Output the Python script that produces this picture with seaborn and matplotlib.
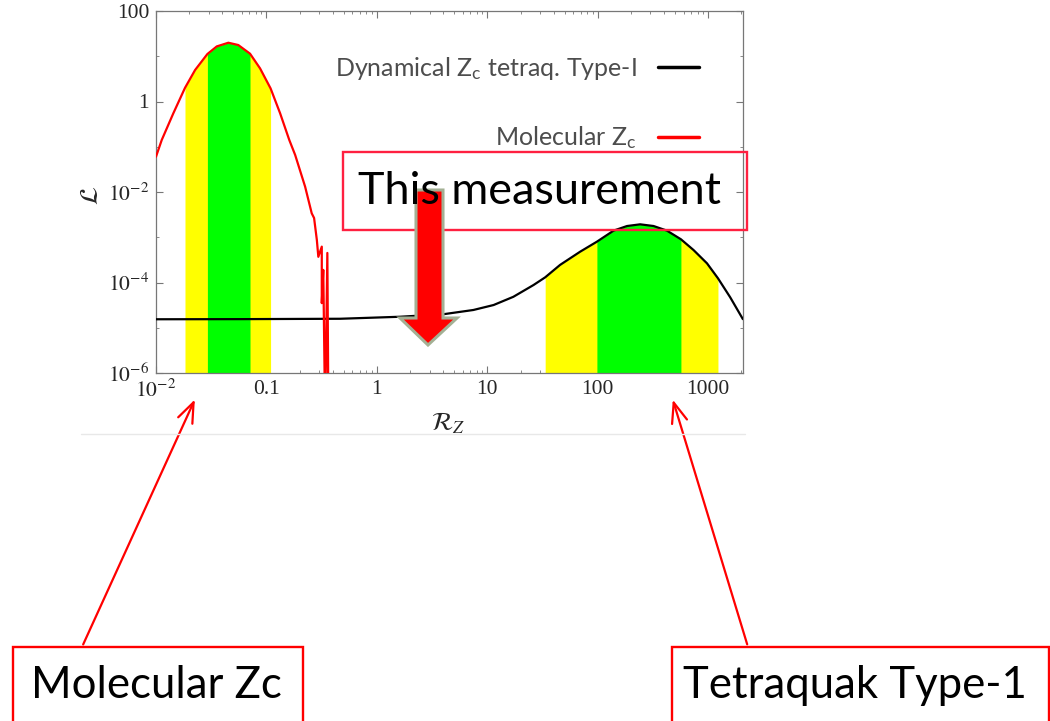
import numpy as np
import matplotlib
matplotlib.use("Agg")
import matplotlib.pyplot as plt
import seaborn as sns
from matplotlib.patches import Rectangle, Polygon, FancyArrowPatch
from matplotlib.lines import Line2D
from matplotlib.ticker import FixedLocator, NullFormatter, LogLocator

# ---- likelihood curves vs R_Z ----
molecular_x = np.array([0.0100, 0.01127, 0.01435, 0.0183, 0.0226, 0.0292, 0.0355, 0.0452,
                        0.0556, 0.0710, 0.0875, 0.109, 0.133, 0.161, 0.182, 0.224,
                        0.257, 0.270, 0.286, 0.295, 0.317, 0.317, 0.327, 0.340, 0.356, 0.364])
molecular_y = np.array([0.0603, 0.141, 0.548, 2.00, 4.97, 11.2, 16.5, 19.9,
                        17.7, 11.4, 5.4, 1.95, 0.548, 0.141, 0.0658, 0.0131,
                        3.38e-3, 2.66e-3, 8.7e-4, 3.7e-4, 6.2e-4, 3.5e-5, 1.9e-4, 1e-7, 4.5e-4, 1e-7])

tetraquark_x = np.array([0.0100, 0.0577, 0.465, 1.62, 4.00, 7.48, 11.4, 17.2, 26.2, 33.4,
                         45.6, 69.3, 98.2, 139, 184, 242, 320, 423, 566, 736, 975, 1225,
                         1581, 2060])
tetraquark_y = np.array([1.54e-5, 1.55e-5, 1.58e-5, 1.75e-5, 1.99e-5, 2.47e-5, 3.18e-5, 4.83e-5,
                         8.8e-5, 1.30e-4, 2.45e-4, 4.80e-4, 7.98e-4, 1.40e-3, 1.77e-3, 1.93e-3,
                         1.77e-3, 1.40e-3, 9.02e-4, 5.22e-4, 2.65e-4, 1.24e-4, 4.71e-5, 1.55e-5])

# 1 sigma / 2 sigma ranges
molecular_band_2s = (0.0183, 0.109)
molecular_band_1s = (0.0292, 0.0710)
tetraquark_band_2s = (33.4, 1225)
tetraquark_band_1s = (98.2, 566)

x_ticks = [0.01, 0.1, 1, 10, 100, 1000]
x_tick_labels = [r"$10^{-2}$", "0.1", "1", "10", "100", "1000"]
y_ticks = [1e-6, 1e-4, 1e-2, 1, 100]
y_tick_labels = [r"$10^{-6}$", r"$10^{-4}$", r"$10^{-2}$", "1", "100"]
y_minor_ticks = [1e-5, 1e-3, 1e-1, 10]

legend_labels = [r"Dynamical Z$\mathregular{_c}$ tetraq. Type-I", r"Molecular Z$\mathregular{_c}$"]

sns.set_style("white")
plt.rcParams["font.family"] = ["DejaVu Sans"]
plt.rcParams["mathtext.fontset"] = "stix"

W, H = 1050, 721
fig = plt.figure(figsize=(W / 100, H / 100), dpi=100)


def fx(px):
    return px / W


def fy(py):
    return 1 - py / H


ax = fig.add_axes([fx(156), fy(373), fx(743) - fx(156), fy(11) - fy(373)])
ax.set_xscale("log")
ax.set_yscale("log")


def band(x, y, rng, color):
    lo, hi = rng
    m = (x >= lo * 0.999) & (x <= hi * 1.001)
    ax.fill_between(x[m], 1e-8, y[m], color=color, lw=0, zorder=1)


band(molecular_x[:20], molecular_y[:20], molecular_band_2s, "#ffff00")
band(molecular_x[:20], molecular_y[:20], molecular_band_1s, "#00ff00")
band(tetraquark_x, tetraquark_y, tetraquark_band_2s, "#ffff00")
band(tetraquark_x, tetraquark_y, tetraquark_band_1s, "#00ff00")

sns.lineplot(x=tetraquark_x, y=tetraquark_y, estimator=None, sort=False, color="black",
             lw=1.6, ax=ax, label=legend_labels[0], zorder=3)
sns.lineplot(x=molecular_x, y=molecular_y, estimator=None, sort=False, color="#ff0000",
             lw=1.6, ax=ax, label=legend_labels[1], zorder=4)

ax.set_xlim(0.01, 2065)
ax.set_ylim(1e-6, 100)

ax.xaxis.set_major_locator(FixedLocator(x_ticks))
ax.set_xticklabels(x_tick_labels)
ax.xaxis.set_minor_locator(LogLocator(base=10, subs=np.arange(2, 10)))
ax.xaxis.set_minor_formatter(NullFormatter())
ax.yaxis.set_major_locator(FixedLocator(y_ticks))
ax.set_yticklabels(y_tick_labels)
ax.yaxis.set_minor_locator(FixedLocator(y_minor_ticks))
ax.yaxis.set_minor_formatter(NullFormatter())

ax.tick_params(which="both", direction="in", top=True, right=True, bottom=True, left=True,
               color="#777777")
ax.tick_params(which="major", length=5, width=0.8, labelsize=15.5, pad=5)
ax.tick_params(which="minor", length=2.5, width=0.6)
for t in ax.get_xticklabels() + ax.get_yticklabels():
    t.set_fontfamily("Liberation Serif")
for s in ax.spines.values():
    s.set_color("#777777")
    s.set_linewidth(0.9)

ax.set_ylabel(r"$\mathcal{L}$", fontsize=19, va="center")
ax.yaxis.set_label_coords((91 - 156) / 587, 0.49)
ax.set_xlabel(r"$\mathcal{R}_Z$", fontsize=18, va="center")
ax.xaxis.set_label_coords((448 - 156) / 587, (373 - 423) / 362)

handles, labels = ax.get_legend_handles_labels()
leg = ax.legend(handles, labels, markerfirst=False, frameon=False, loc="upper right",
                bbox_to_anchor=(fx(699), fy(55)), bbox_transform=fig.transFigure,
                borderpad=0, borderaxespad=0, handlelength=1.65, handletextpad=0.85,
                labelspacing=1.7, prop={"family": "Lato", "size": 18})
for t in leg.get_texts():
    t.set_color("#4d4d4d")
for ln in leg.get_lines():
    ln.set_linewidth(2.5)

# separator line under the plot
fig.add_artist(Line2D([fx(81), fx(745)], [fy(434), fy(434)], color="#e8e8e8", lw=1))

# "This measurement" callout
fig.add_artist(Rectangle((fx(343), fy(230)), fx(747) - fx(343), fy(152) - fy(230),
                         transform=fig.transFigure, fill=False, ec="#ff2040", lw=1.7, zorder=5))
arrow_pts = [(416, 190), (443, 190), (443, 318), (457, 318), (428, 345), (400, 318), (416, 318)]
fig.add_artist(Polygon([(fx(a), fy(b)) for a, b in arrow_pts], closed=True,
                       transform=fig.transFigure, fc="#ff0000", ec="#a3b094", lw=2.2, zorder=6))
fig.text(fx(540), fy(191), "This measurement", ha="center", va="center", fontsize=32.4,
         family="Lato", color="black", zorder=7)

# bottom labels with pointers
for (x0, x1), cx, (tx, ty), (hx, hy), label in [
    ((13, 303), 156, (82, 647), (196, 397), "Molecular Zc"),
    ((672, 1049), 855, (748, 647), (672, 397), "Tetraquak Type-1"),
]:
    fig.add_artist(Rectangle((fx(x0), fy(740)), fx(x1) - fx(x0), fy(647) - fy(740),
                             transform=fig.transFigure, fill=False, ec="#ff0000", lw=1.7))
    fig.add_artist(FancyArrowPatch((fx(tx), fy(ty)), (fx(hx), fy(hy)), transform=fig.transFigure,
                                   arrowstyle="->,head_length=0.9,head_width=0.35",
                                   mutation_scale=16, color="#ff0000", lw=1.6))
    fig.text(fx(cx), fy(686), label, ha="center", va="center", fontsize=31.5,
             family="Lato", color="black")

fig.savefig("out.png", dpi=100)
